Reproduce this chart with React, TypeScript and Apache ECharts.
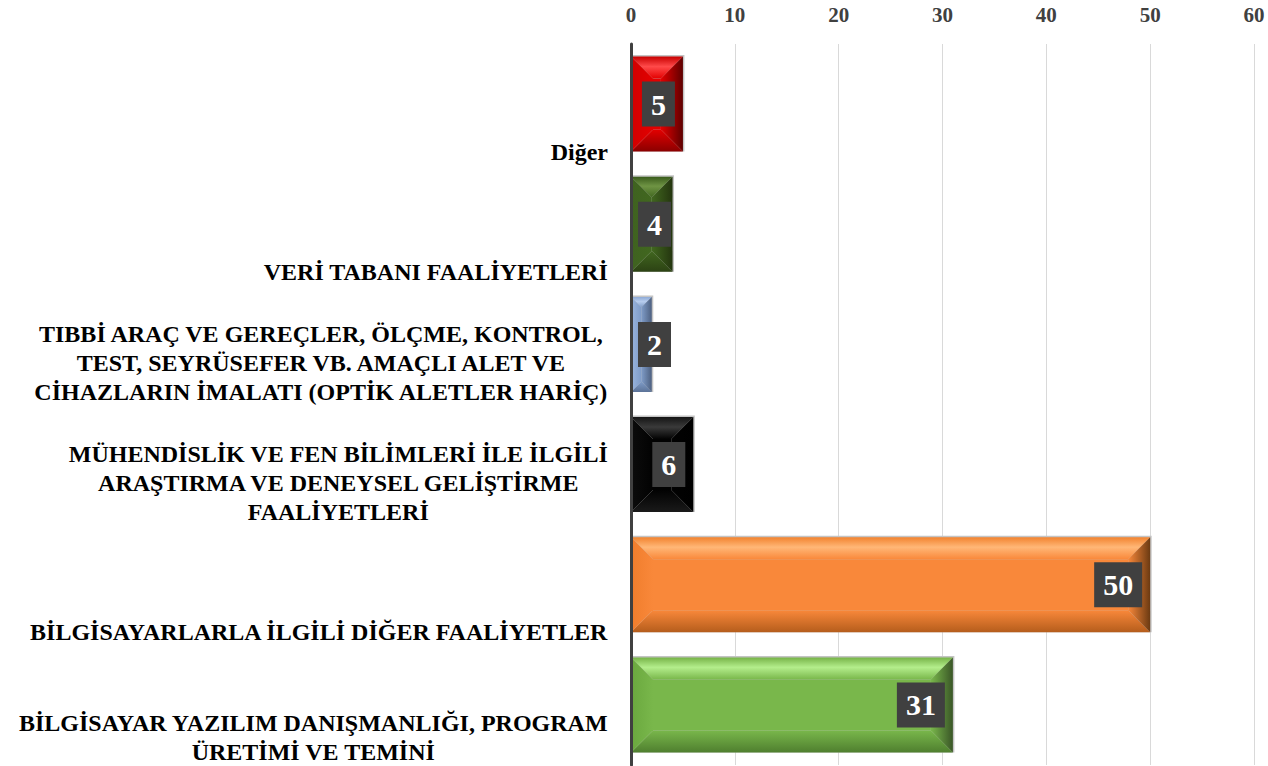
import React, { useEffect, useRef } from "react";
import * as echarts from "echarts";

const categories: string[] = [
  "Diğer",
  "VERİ TABANI FAALİYETLERİ",
  "TIBBİ ARAÇ VE GEREÇLER, ÖLÇME, KONTROL,\nTEST, SEYRÜSEFER VB. AMAÇLI ALET VE\nCİHAZLARIN İMALATI (OPTİK ALETLER HARİÇ)",
  "MÜHENDİSLİK VE FEN BİLİMLERİ İLE İLGİLİ\nARAŞTIRMA VE DENEYSEL GELİŞTİRME\nFAALİYETLERİ",
  "BİLGİSAYARLARLA İLGİLİ DİĞER FAALİYETLER",
  "BİLGİSAYAR YAZILIM DANIŞMANLIĞI, PROGRAM\nÜRETİMİ VE TEMİNİ",
];
const values: number[] = [5, 4, 2, 6, 50, 31];
const axisMin = 0;
const axisMax = 60;
const axisInterval = 10;

const palettes = [
  { face: "#e30000", hi: "#ff4a4a", top: "#c80000", bottom: "#8a0000", left: "#d00000", right: "#5e0000" },
  { face: "#41671f", hi: "#6f9444", top: "#3a5c1c", bottom: "#2c4214", left: "#3f6220", right: "#24350f" },
  { face: "#7f9cc8", hi: "#b7cdee", top: "#8eaad6", bottom: "#5c7398", left: "#9ab5de", right: "#4d6080" },
  { face: "#020202", hi: "#3a3a3a", top: "#151515", bottom: "#1a1a1a", left: "#0c0c0c", right: "#000000" },
  { face: "#f9883a", hi: "#ffb777", top: "#f2832f", bottom: "#b55d1c", left: "#f07d2c", right: "#6b3a12" },
  { face: "#79b74b", hi: "#b4ee8c", top: "#76b347", bottom: "#4f7f2f", left: "#6aa83e", right: "#3a5627" },
];

const SERIF = '"Liberation Serif", "Times New Roman", serif';

export default function App() {
  const ref = useRef<HTMLDivElement>(null);
  useEffect(() => {
    if (!ref.current) return;
    const chart = echarts.init(ref.current, undefined, { renderer: "svg" });
    const lg = (x0: number, y0: number, x1: number, y1: number, stops: [number, string][]) =>
      new echarts.graphic.LinearGradient(x0, y0, x1, y1, stops.map(([offset, color]) => ({ offset, color })));

    const renderItem = (params: any, api: any) => {
      const idx = api.value(1);
      const v = api.value(0);
      const start = api.coord([0, idx]);
      const end = api.coord([v, idx]);
      const band = api.size([0, 1])[1];
      const h = band * 0.79;
      const x0 = start[0];
      const x1 = end[0];
      const cy = start[1];
      const y0 = cy - h / 2;
      const y1 = cy + h / 2;
      const w = x1 - x0;
      const b = Math.min(22, w / 2, h / 2);
      const p = palettes[idx % palettes.length];
      const children: any[] = [];
      children.push({
        type: "rect",
        shape: { x: x0, y: y0 - 1.5, width: w + 1.5, height: h + 1.5 },
        style: { fill: "#c4c4c4" },
      });
      children.push({
        type: "rect",
        shape: { x: x0 + b, y: y0 + b, width: Math.max(0, w - 2 * b), height: h - 2 * b },
        style: { fill: p.face },
      });
      children.push({
        type: "polygon",
        shape: { points: [[x0, y0], [x1, y0], [x1 - b, y0 + b], [x0 + b, y0 + b]] },
        style: { fill: lg(0, 0, 0, 1, [[0, p.top], [0.45, p.hi], [1, p.face]]) },
      });
      children.push({
        type: "polygon",
        shape: { points: [[x0, y1], [x1, y1], [x1 - b, y1 - b], [x0 + b, y1 - b]] },
        style: { fill: lg(0, 0, 0, 1, [[0, p.face], [1, p.bottom]]) },
      });
      children.push({
        type: "polygon",
        shape: { points: [[x0, y0], [x0 + b, y0 + b], [x0 + b, y1 - b], [x0, y1]] },
        style: { fill: lg(0, 0, 1, 0, [[0, p.left], [1, p.face]]) },
      });
      children.push({
        type: "polygon",
        shape: { points: [[x1, y0], [x1 - b, y0 + b], [x1 - b, y1 - b], [x1, y1]] },
        style: { fill: lg(0, 0, 1, 0, [[0, p.face], [1, p.right]]) },
      });
      const txt = String(v);
      const estW = txt.length * 15 + 18;
      let right = x1 - 8;
      if (right - estW < x0 + 7) right = x0 + 7 + estW;
      children.push({
        type: "text",
        style: {
          text: txt,
          x: right,
          y: cy,
          align: "right",
          verticalAlign: "middle",
          fill: "#ffffff",
          font: `bold 30px ${SERIF}`,
          lineHeight: 33,
          backgroundColor: "#404040",
          padding: [6, 9, 6, 9],
        },
      });
      const lines = categories[idx].split("\n");
      children.push({
        type: "text",
        style: {
          text: lines.map((l) => `{c|${l}}`).join("\n"),
          rich: { c: { align: "center", font: `bold 24px ${SERIF}`, lineHeight: 29, fill: "#000000" } },
          x: x0 - 23,
          y: y1 + 14.5,
          align: "right",
          verticalAlign: "bottom",
          font: `bold 24px ${SERIF}`,
          lineHeight: 29,
          fill: "#000000",
        },
      });
      return { type: "group", children };
    };

    chart.setOption({
      animation: false,
      backgroundColor: "#ffffff",
      grid: { left: 631, right: 14, top: 44, bottom: 1, containLabel: false },
      xAxis: {
        type: "value",
        position: "top",
        min: axisMin,
        max: axisMax,
        interval: axisInterval,
        axisLine: { show: false },
        axisTick: { show: false },
        axisLabel: { color: "#404040", fontFamily: SERIF, fontWeight: "bold", fontSize: 21, margin: 19 },
        splitLine: { show: true, lineStyle: { color: "#d9d9d9", width: 1 } },
      },
      yAxis: {
        type: "category",
        inverse: true,
        data: categories,
        z: 10,
        axisLine: { show: true, lineStyle: { color: "#404040", width: 3 } },
        axisTick: { show: false },
        axisLabel: { show: false },
        splitLine: { show: false },
      },
      series: [
        {
          type: "custom",
          clip: false,
          renderItem,
          encode: { x: 0, y: 1 },
          data: values.map((v, i) => [v, i]),
        },
      ],
    });
    return () => chart.dispose();
  }, []);
  return <div ref={ref} style={{ position: "fixed", left: 0, top: 0, width: 1268, height: 766 }} />;
}
